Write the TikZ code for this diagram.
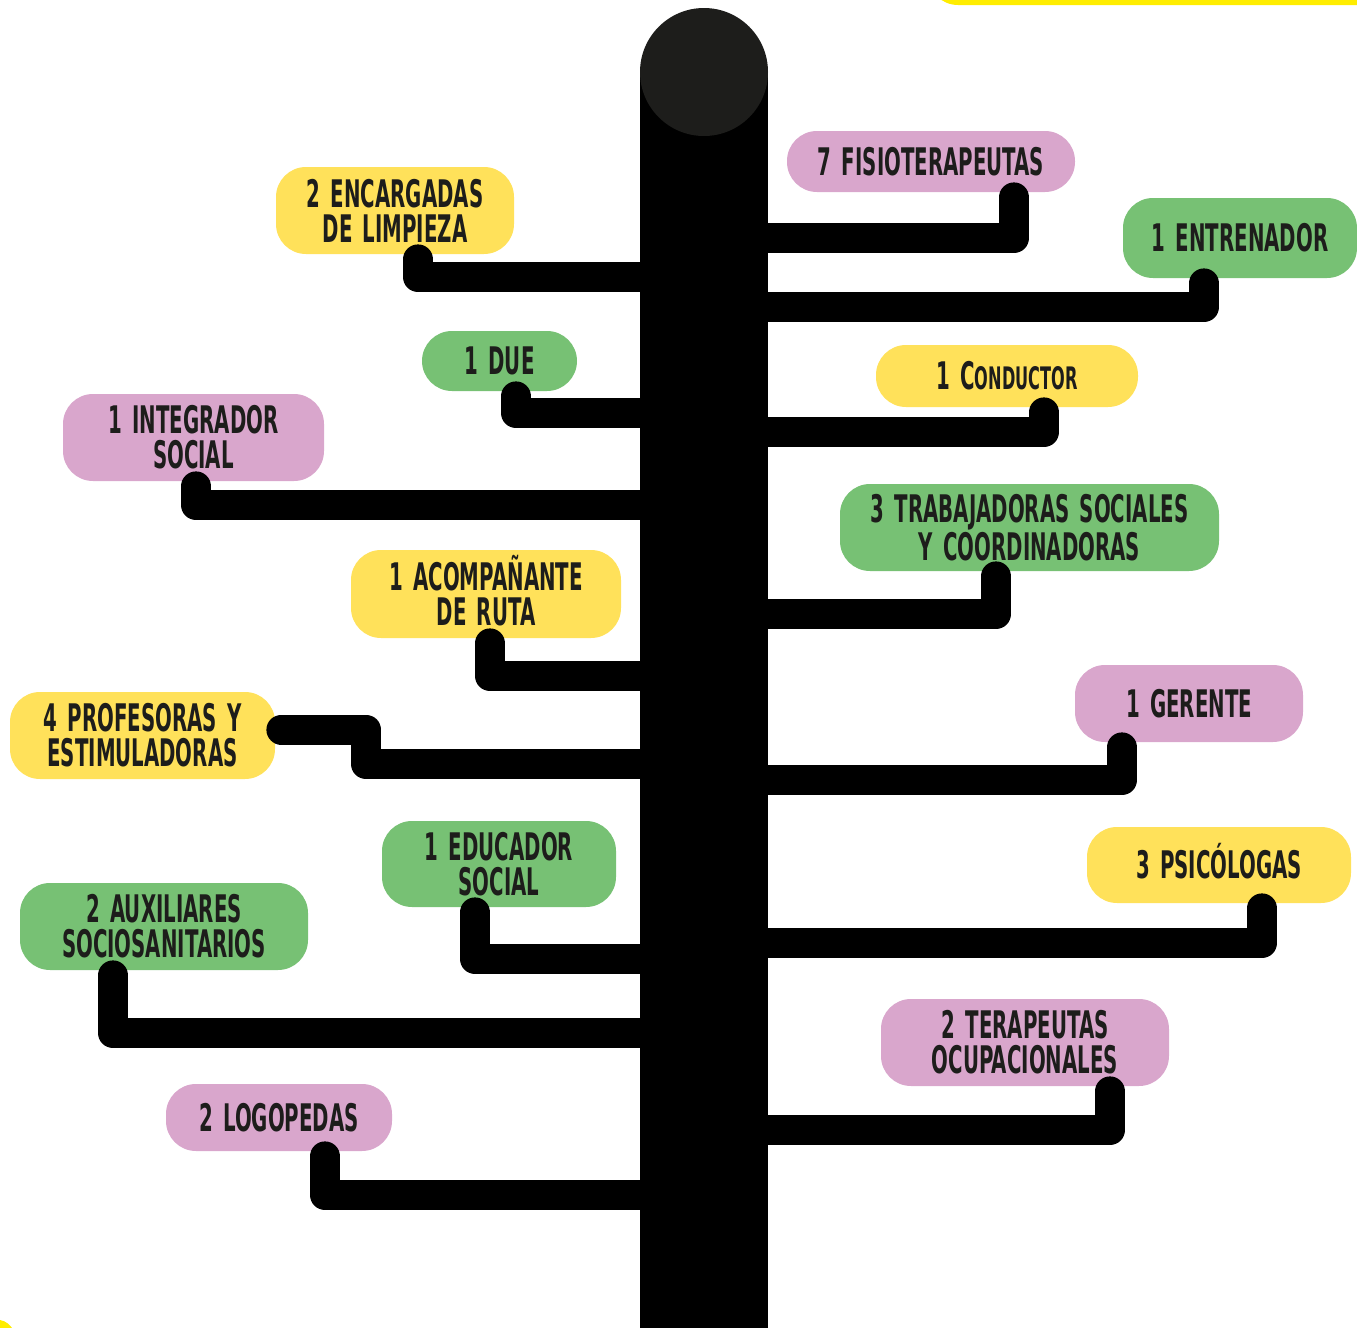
\documentclass[tikz,border=0pt]{standalone}
\usepackage{fontspec}
\setmainfont{DejaVu Sans}[FakeStretch=0.52, WordSpace=1.5]
\usepackage{tikz}
\usetikzlibrary{calc}

\definecolor{boxyellow}{HTML}{FFE15A}
\definecolor{boxgreen}{HTML}{77C174}
\definecolor{boxpink}{HTML}{D9A6CC}
\definecolor{ink}{HTML}{1D1D1B}
\definecolor{signyellow}{HTML}{FFED00}

\begin{document}
\begin{tikzpicture}[x=0.5pt, y=-0.5pt,
    staff/.style={rounded corners=15pt, inner sep=0pt, align=center, text=ink,
      font=\bfseries\fontsize{19}{17.5}\selectfont},
    yellowstaff/.style={staff, fill=boxyellow},
    greenstaff/.style={staff, fill=boxgreen},
    pinkstaff/.style={staff, fill=boxpink},
    branch/.style={black, line width=15pt, line cap=round, line join=round}]
            \useasboundingbox (0,0) rectangle (1357,1328);
            \clip (0,0) rectangle (1357,1328);
            % Corners of the neighbouring panels
            \fill[signyellow, rounded corners=15pt] (928,-100) rectangle (1500,5);
            \fill[signyellow] (0,1320) .. controls (6,1321) and (10,1325) .. (12,1328) -- (0,1328) -- cycle;
            % Trunk
            \node[fill=black, inner sep=0pt, minimum width=64pt, minimum height=640pt, anchor=north] (trunk) at (704,72) {};
            \node[circle, fill=ink, inner sep=0pt, minimum size=64pt] (top) at (704,72) {};
            % Nodes, left
            \node[yellowstaff, minimum width=119pt, minimum height=43.5pt] (limpieza) at (395,210.5) {2 ENCARGADAS\\DE LIMPIEZA};
            \node[greenstaff, minimum width=77.5pt, minimum height=30pt] (due) at (499.5,361) {1 DUE};
            \node[pinkstaff, minimum width=130.5pt, minimum height=43.5pt] (integrador) at (193.5,437.5) {1 INTEGRADOR\\SOCIAL};
            \node[yellowstaff, minimum width=135pt, minimum height=44pt] (acompanante) at (486,594) {1 ACOMPA\smash{Ñ}ANTE\\DE RUTA};
            \node[yellowstaff, minimum width=132.5pt, minimum height=43.5pt] (profesoras) at (142.5,735.5) {4 PROFESORAS Y\\ESTIMULADORAS};
            \node[greenstaff, minimum width=117pt, minimum height=43pt] (educador) at (499,864) {1 EDUCADOR\\SOCIAL};
            \node[greenstaff, minimum width=144pt, minimum height=43.5pt] (auxiliares) at (164,926.5) {2 AUXILIARES\\SOCIOSANITARIOS};
            \node[pinkstaff, minimum width=113pt, minimum height=33.5pt] (logopedas) at (279,1117.5) {2 LOGOPEDAS};
            % Nodes, right
            \node[pinkstaff, minimum width=144pt, minimum height=30.5pt] (fisio) at (931,161.5) {7 FISIOTERAPEUTAS};
            \node[greenstaff, minimum width=117pt, minimum height=40pt] (entrenador) at (1240,238) {1 ENTRENADOR};
            \node[yellowstaff, minimum width=131pt, minimum height=31pt] (conductor) at (1007,376) {1 C{\fontsize{15.5}{16.5}\selectfont ONDUCTOR}};
            \node[greenstaff, minimum width=189.5pt, minimum height=43.5pt] (trabajadoras) at (1029.5,527.5) {3 TRABAJADORAS SOCIALES\\Y COORDINADORAS};
            \node[pinkstaff, minimum width=114pt, minimum height=38.5pt] (gerente) at (1189,703.5) {1 GERENTE};
            \node[yellowstaff, minimum width=132pt, minimum height=38pt] (psicologas) at (1219,865) {3 PSIC\smash{Ó}LOGAS};
            \node[pinkstaff, minimum width=144pt, minimum height=43.5pt] (terapeutas) at (1025,1042.5) {2 TERAPEUTAS\\OCUPACIONALES};
            % Edges, left
            \draw[branch] ($(limpieza.south -| 418,0)+(0,5)$) |- (trunk.west |- 0,277);
            \draw[branch] ($(due.south -| 516,0)+(0,5)$) |- (trunk.west |- 0,413);
            \draw[branch] ($(integrador.south -| 196,0)+(0,5)$) |- (trunk.west |- 0,505);
            \draw[branch] ($(acompanante.south -| 490,0)+(0,5)$) |- (trunk.west |- 0,676);
            \draw[branch] ([shift={(3pt,3pt)}]profesoras.east) -| (366,764) -- (trunk.west |- 0,764);
            \draw[branch] ($(educador.south -| 475,0)+(0,5)$) |- (trunk.west |- 0,959);
            \draw[branch] ($(auxiliares.south -| 113,0)+(0,5)$) |- (trunk.west |- 0,1033);
            \draw[branch] ($(logopedas.south -| 325,0)+(0,5)$) |- (trunk.west |- 0,1195);
            % Edges, right
            \draw[branch] ($(fisio.south -| 1014,0)+(0,5)$) |- (trunk.east |- 0,238);
            \draw[branch] ($(entrenador.south -| 1204,0)+(0,5)$) |- (trunk.east |- 0,307);
            \draw[branch] ($(conductor.south -| 1044,0)+(0,5)$) |- (trunk.east |- 0,432);
            \draw[branch] ($(trabajadoras.south -| 996,0)+(0,5)$) |- (trunk.east |- 0,614);
            \draw[branch] ($(gerente.south -| 1122,0)+(0,5)$) |- (trunk.east |- 0,780);
            \draw[branch] ($(psicologas.south -| 1262,0)+(0,5)$) |- (trunk.east |- 0,943);
            \draw[branch] ($(terapeutas.south -| 1110,0)+(0,5)$) |- (trunk.east |- 0,1130);
        \end{tikzpicture}
\end{document}
